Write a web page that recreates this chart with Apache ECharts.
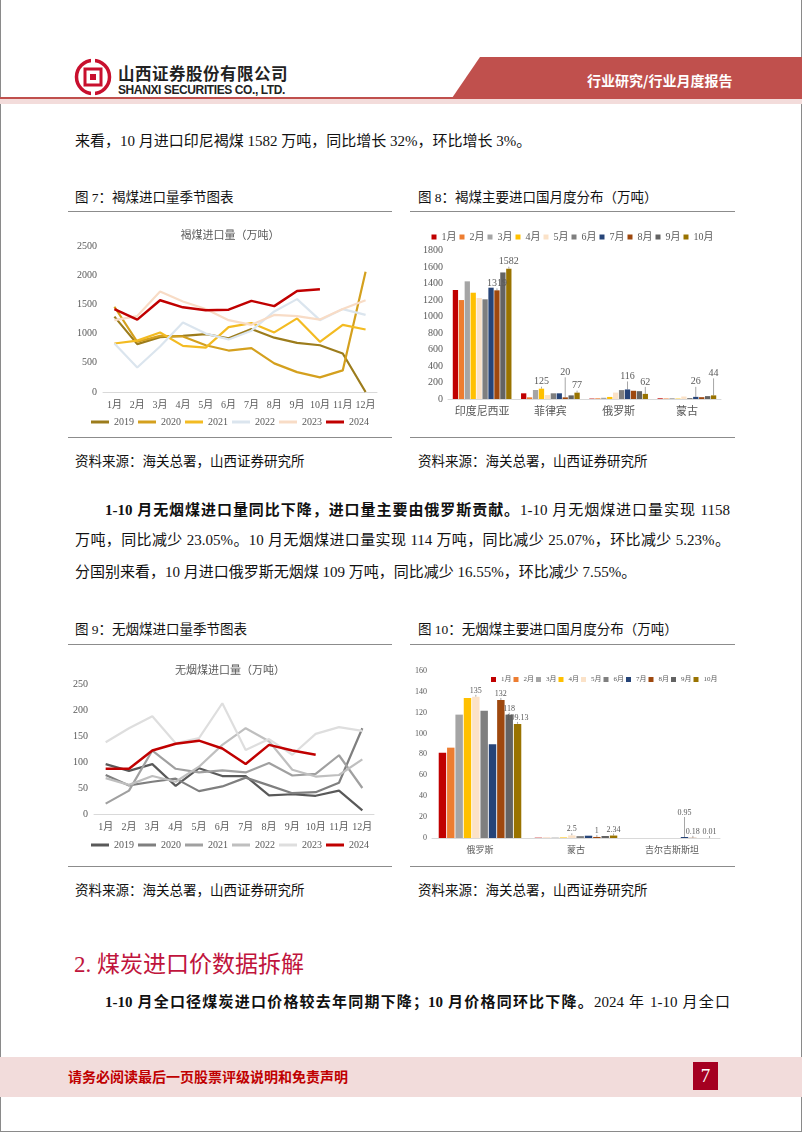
<!DOCTYPE html>
<html>
<head>
<meta charset="utf-8">
<script src="https://cdn.jsdelivr.net/npm/echarts@6/dist/echarts.min.js"></script>
<style>
  body { margin: 0; background: #fff; }
  .page { position: relative; width: 802px; height: 1133px; overflow: hidden;
          font-family: "Liberation Serif", "Noto Sans CJK SC", serif; color: #111; }
  .abs { position: absolute; white-space: nowrap; }
  .frame { position: absolute; left: 0; top: 0; width: 800px; height: 1131px;
           border-left: 1px solid #8a8a8a; border-right: 1px solid #8a8a8a; border-bottom: 1px solid #8a8a8a; }
  .body { font-size: 15px; line-height: 20px; }
  .just { text-align: justify; text-align-last: justify; }
  .cap { font-family: "Liberation Serif", "Noto Sans CJK SC"; font-size: 13.5px; }
  .rule { position: absolute; height: 1px; background: #8c8c8c; }
  .chart { position: absolute; }
</style>
</head>
<body>
<div class="page">
  <div class="frame"></div>

  <!-- header -->
  <svg class="abs" style="left:74px;top:58px" width="38" height="38" viewBox="0 0 38 38">
    <circle cx="19" cy="19" r="16.5" fill="none" stroke="#c8102e" stroke-width="3.5"/>
    <rect x="11" y="11" width="16" height="16" fill="none" stroke="#c8102e" stroke-width="3"/>
    <rect x="16" y="16" width="6" height="6" fill="#c8102e"/>
    <rect x="17" y="0" width="4" height="8" fill="#fff"/>
    <rect x="17" y="30" width="4" height="8" fill="#fff"/>
  </svg>
  <div class="abs" style="left:118px;top:61px;font-family:'Noto Sans CJK SC';font-weight:700;font-size:16.5px;letter-spacing:0.5px;color:#222">山西证券股份有限公司</div>
  <div class="abs" style="left:118px;top:83px;font-family:'Liberation Sans';font-weight:700;font-size:12px;letter-spacing:-0.4px;color:#222">SHANXI SECURITIES CO., LTD.</div>
  <div class="abs" style="left:0;top:57px;width:802px;height:41px;background:#c0504d;clip-path:polygon(480px 0,802px 0,802px 41px,452px 41px)"></div>
  <div class="abs" style="left:587px;top:70px;font-family:'Noto Sans CJK SC';font-weight:700;font-size:14px;color:#fff">行业研究/行业月度报告</div>
  <div class="abs" style="left:0;top:97px;width:802px;height:2px;background:#c0504d"></div>
  <div class="abs" style="left:0;top:99px;width:802px;height:5px;background:#f3dcdb"></div>

  <!-- text -->
  <div class="abs body" style="left:75px;top:131px">来看，10 月进口印尼褐煤 1582 万吨，同比增长 32%，环比增长 3%。</div>

  <div class="abs cap" style="left:75px;top:186px">图 7：褐煤进口量季节图表</div>
  <div class="abs cap" style="left:418px;top:186px">图 8：褐煤主要进口国月度分布（万吨）</div>
  <div class="rule" style="left:68px;top:211px;width:324px"></div>
  <div class="rule" style="left:410px;top:211px;width:325px"></div>
  <div id="c7" class="chart" style="left:68px;top:212px;width:324px;height:225px"></div>
  <div id="c8" class="chart" style="left:410px;top:212px;width:325px;height:225px"></div>
  <div class="rule" style="left:68px;top:437px;width:324px"></div>
  <div class="rule" style="left:410px;top:437px;width:325px"></div>
  <div class="abs cap" style="left:75px;top:450px">资料来源：海关总署，山西证券研究所</div>
  <div class="abs cap" style="left:418px;top:450px">资料来源：海关总署，山西证券研究所</div>

  <div class="abs body just" style="left:105px;top:500px;width:625px"><b>1-10 月无烟煤进口量同比下降，进口量主要由俄罗斯贡献。</b>1-10 月无烟煤进口量实现 1158</div>
  <div class="abs body just" style="left:75px;top:530px;width:655px">万吨，同比减少 23.05%。10 月无烟煤进口量实现 114 万吨，同比减少 25.07%，环比减少 5.23%。</div>
  <div class="abs body" style="left:75px;top:562px">分国别来看，10 月进口俄罗斯无烟煤 109 万吨，同比减少 16.55%，环比减少 7.55%。</div>

  <div class="abs cap" style="left:75px;top:618px">图 9：无烟煤进口量季节图表</div>
  <div class="abs cap" style="left:418px;top:618px">图 10：无烟煤主要进口国月度分布（万吨）</div>
  <div class="rule" style="left:68px;top:644px;width:324px"></div>
  <div class="rule" style="left:410px;top:644px;width:325px"></div>
  <div id="c9" class="chart" style="left:68px;top:650px;width:324px;height:215px"></div>
  <div id="c10" class="chart" style="left:410px;top:650px;width:325px;height:215px"></div>
  <div class="rule" style="left:68px;top:866px;width:324px"></div>
  <div class="rule" style="left:410px;top:866px;width:325px"></div>
  <div class="abs cap" style="left:75px;top:879px">资料来源：海关总署，山西证券研究所</div>
  <div class="abs cap" style="left:418px;top:879px">资料来源：海关总署，山西证券研究所</div>

  <div class="abs" style="left:74px;top:945px;font-size:23px;color:#c0143c;font-family:'Liberation Serif','Noto Sans CJK SC'">2. 煤炭进口价数据拆解</div>
  <div class="abs body just" style="left:105px;top:992px;width:625px"><b>1-10 月全口径煤炭进口价格较去年同期下降；10 月价格同环比下降。</b>2024 年 1-10 月全口</div>

  <!-- footer -->
  <div class="abs" style="left:0;top:1057px;width:802px;height:40px;background:#f2dcdb"></div>
  <div class="abs" style="left:68px;top:1066px;font-family:'Noto Sans CJK SC';font-weight:700;font-size:14px;color:#c00000">请务必阅读最后一页股票评级说明和免责声明</div>
  <div class="abs" style="left:693px;top:1062px;width:25px;height:28px;background:#a50021;color:#fff;font-size:19px;line-height:28px;text-align:center">7</div>
</div>

<script>
// ---- data ----
const months12 = ['1月','2月','3月','4月','5月','6月','7月','8月','9月','10月','11月','12月']
const months10 = ['1月','2月','3月','4月','5月','6月','7月','8月','9月','10月']
const years = ['2019','2020','2021','2022','2023','2024']

// 褐煤进口量（万吨）
const lig2019 = [1290, 820, 940, 960, 990, 920, 1080, 930, 840, 800, 660, 0]
const lig2020 = [1460, 860, 960, 950, 800, 710, 750, 490, 340, 250, 370, 2060]
const lig2021 = [830, 880, 1020, 790, 760, 1110, 1180, 1020, 1260, 860, 1150, 1070]
const lig2022 = [830, 420, 780, 1190, 1000, 900, 1050, 1380, 1590, 1230, 1420, 1320]
const lig2023 = [1230, 1300, 1720, 1550, 1420, 1230, 1150, 1320, 1300, 1240, 1420, 1570]
const lig2024 = [1420, 1240, 1570, 1450, 1400, 1410, 1560, 1470, 1730, 1760]

// 无烟煤进口量（万吨）
const ant2019 = [96, 83, 96, 54, 88, 73, 73, 36, 38, 35, 45, 7]
const ant2020 = [75, 55, 62, 68, 44, 53, 70, 55, 40, 42, 60, 165]
const ant2021 = [20, 45, 122, 87, 80, 84, 80, 98, 74, 77, 113, 50]
const ant2022 = [69, 56, 73, 62, 91, 133, 165, 140, 85, 72, 75, 105]
const ant2023 = [138, 165, 188, 136, 146, 213, 123, 144, 114, 154, 167, 160]
const ant2024 = [87, 87, 122, 135, 141, 126, 96, 133, 122, 114]

// 褐煤主要进口国（按月）
const ligCountries = ['印度尼西亚', '菲律宾', '俄罗斯', '蒙古']
const ligIndo = [1323, 1201, 1428, 1290, 1226, 1210, 1351, 1319, 1536, 1582]
const ligPhil = [69, 20, 109, 125, 48, 69, 69, 20, 44, 77]
const ligRus = [5, 8, 15, 25, 78, 108, 116, 100, 95, 62]
const ligMon = [8, 6, 10, 5, 30, 12, 26, 22, 35, 44]
const ligLabeled = [[0, 7], [0, 9], [1, 3], [1, 7], [1, 9], [2, 6], [2, 9], [3, 6], [3, 9]]

// 无烟煤主要进口国（按月）
const antCountries = ['俄罗斯', '蒙古', '吉尔吉斯斯坦']
const antRus = [81.6, 86.4, 118, 134, 135, 121.7, 89.6, 132, 118, 109.13]
const antMon = [0.3, 0.2, 0.4, 0.5, 2.5, 1.8, 2.2, 1, 1.9, 2.34]
const antKgz = [0, 0, 0, 0, 0, 0, 0.95, 0.18, 0, 0.01]
const antLabeled = [[0, 4], [0, 7], [0, 8], [0, 9], [1, 4], [1, 7], [1, 9], [2, 6], [2, 7], [2, 9]]

// ---- styles ----
const FONT = '"Liberation Serif", "Noto Sans CJK SC", serif'
const ligLineColors = ['#9c7c1c', '#d4a01e', '#f3bb22', '#dbe5ee', '#f8dcc6', '#c00000']
const antLineColors = ['#595959', '#7f7f7f', '#a0a0a0', '#bfbfbf', '#dedede', '#c00000']
const monthColors = ['#c00000', '#ed7d31', '#a5a5a5', '#ffc000', '#fbe2c8', '#7f7f7f', '#264478', '#9e480e', '#636363', '#997300']
const plain = v => String(v)

function lineChart(el, title, cats, seriesData, colors, yMax, yStep, grid, titleTop, legendBottom) {
  const chart = echarts.init(document.getElementById(el))
  chart.setOption({
    animation: false,
    textStyle: { fontFamily: FONT },
    title: { text: title, left: 'center', top: titleTop,
      textStyle: { fontSize: 11, fontWeight: 'normal', color: '#595959', fontFamily: FONT } },
    legend: { bottom: legendBottom, left: 'center', itemWidth: 18, itemHeight: 3, itemGap: 4,
      icon: 'rect', textStyle: { fontSize: 10, color: '#595959', fontFamily: FONT },
      data: years },
    grid: grid,
    xAxis: { type: 'category', data: cats, boundaryGap: true,
      axisLine: { lineStyle: { color: '#d9d9d9' } }, axisTick: { show: false },
      axisLabel: { interval: 0, color: '#595959', fontSize: 10, margin: 8, fontFamily: FONT } },
    yAxis: { type: 'value', min: 0, max: yMax, interval: yStep,
      splitLine: { show: false }, axisLine: { show: false }, axisTick: { show: false },
      axisLabel: { formatter: plain, color: '#595959', fontSize: 10, margin: 6, fontFamily: FONT } },
    series: seriesData.map((d, i) => ({
      name: years[i], type: 'line', data: d, symbol: 'none',
      lineStyle: { width: i === 5 ? 2.5 : 2.2, color: colors[i] },
      itemStyle: { color: colors[i] }, z: i === 5 ? 10 : 2
    }))
  })
}

function barChart(el, cats, countryData, labeled, yMax, yStep, grid, legend, fs, legendFs, labelDy) {
  const chart = echarts.init(document.getElementById(el))
  const series = months10.map((m, mi) => ({
    name: m, type: 'bar',
    barGap: '12%', barCategoryGap: '14%',
    itemStyle: { color: monthColors[mi] },
    labelLine: { show: true, lineStyle: { color: '#a6a6a6', width: 1 } },
    data: countryData.map((arr, ci) => {
      const show = labeled.some(p => p[0] === ci && p[1] === mi)
      return { value: arr[mi], label: { show: show, position: 'top', distance: 2,
        color: '#595959', fontSize: fs, fontFamily: FONT } }
    })
  }))
  chart.setOption({
    animation: false,
    textStyle: { fontFamily: FONT },
    legend: Object.assign({ icon: 'rect', itemWidth: 5, itemHeight: 5, width: 310,
      textStyle: { color: '#595959', fontSize: legendFs, fontFamily: FONT }, data: months10 }, legend),
    grid: grid,
    xAxis: { type: 'category', data: cats,
      axisLine: { lineStyle: { color: '#d9d9d9' } }, axisTick: { show: false },
      axisLabel: { interval: 0, color: '#595959', fontSize: fs + 1, margin: 8, fontFamily: FONT } },
    yAxis: { type: 'value', min: 0, max: yMax, interval: yStep,
      splitLine: { show: false }, axisLine: { show: false }, axisTick: { show: false },
      axisLabel: { formatter: plain, color: '#595959', fontSize: fs, margin: 5, fontFamily: FONT } },
    labelLayout: function (p) {
      const key = p.dataIndex + '-' + p.seriesIndex
      return labelDy[key] ? { dy: labelDy[key] } : {}
    },
    series: series
  })
}

lineChart('c7', '褐煤进口量（万吨）', months12,
  [lig2019, lig2020, lig2021, lig2022, lig2023, lig2024], ligLineColors,
  2500, 500, { left: 35, right: 15, top: 34, bottom: 45 }, 14, 5)

lineChart('c9', '无烟煤进口量（万吨）', months12,
  [ant2019, ant2020, ant2021, ant2022, ant2023, ant2024], antLineColors,
  250, 50, { left: 26, right: 18, top: 34, bottom: 51 }, 11, 10)

barChart('c8', ligCountries, [ligIndo, ligPhil, ligRus, ligMon], ligLabeled,
  1800, 200, { left: 38, right: 14, top: 38.7, bottom: 38 },
  { top: 15, left: 'center', itemGap: 3 }, 10, 10,
  { '1-7': -18, '2-6': -6, '2-9': -5, '3-6': -8, '3-9': -15 })

barChart('c10', antCountries, [antRus, antMon, antKgz], antLabeled,
  160, 20, { left: 22, right: 15, top: 20.7, bottom: 27 },
  { top: 21, left: 76, itemGap: 2 }, 8, 7,
  { '2-6': -18 })
</script>
</body>
</html>
